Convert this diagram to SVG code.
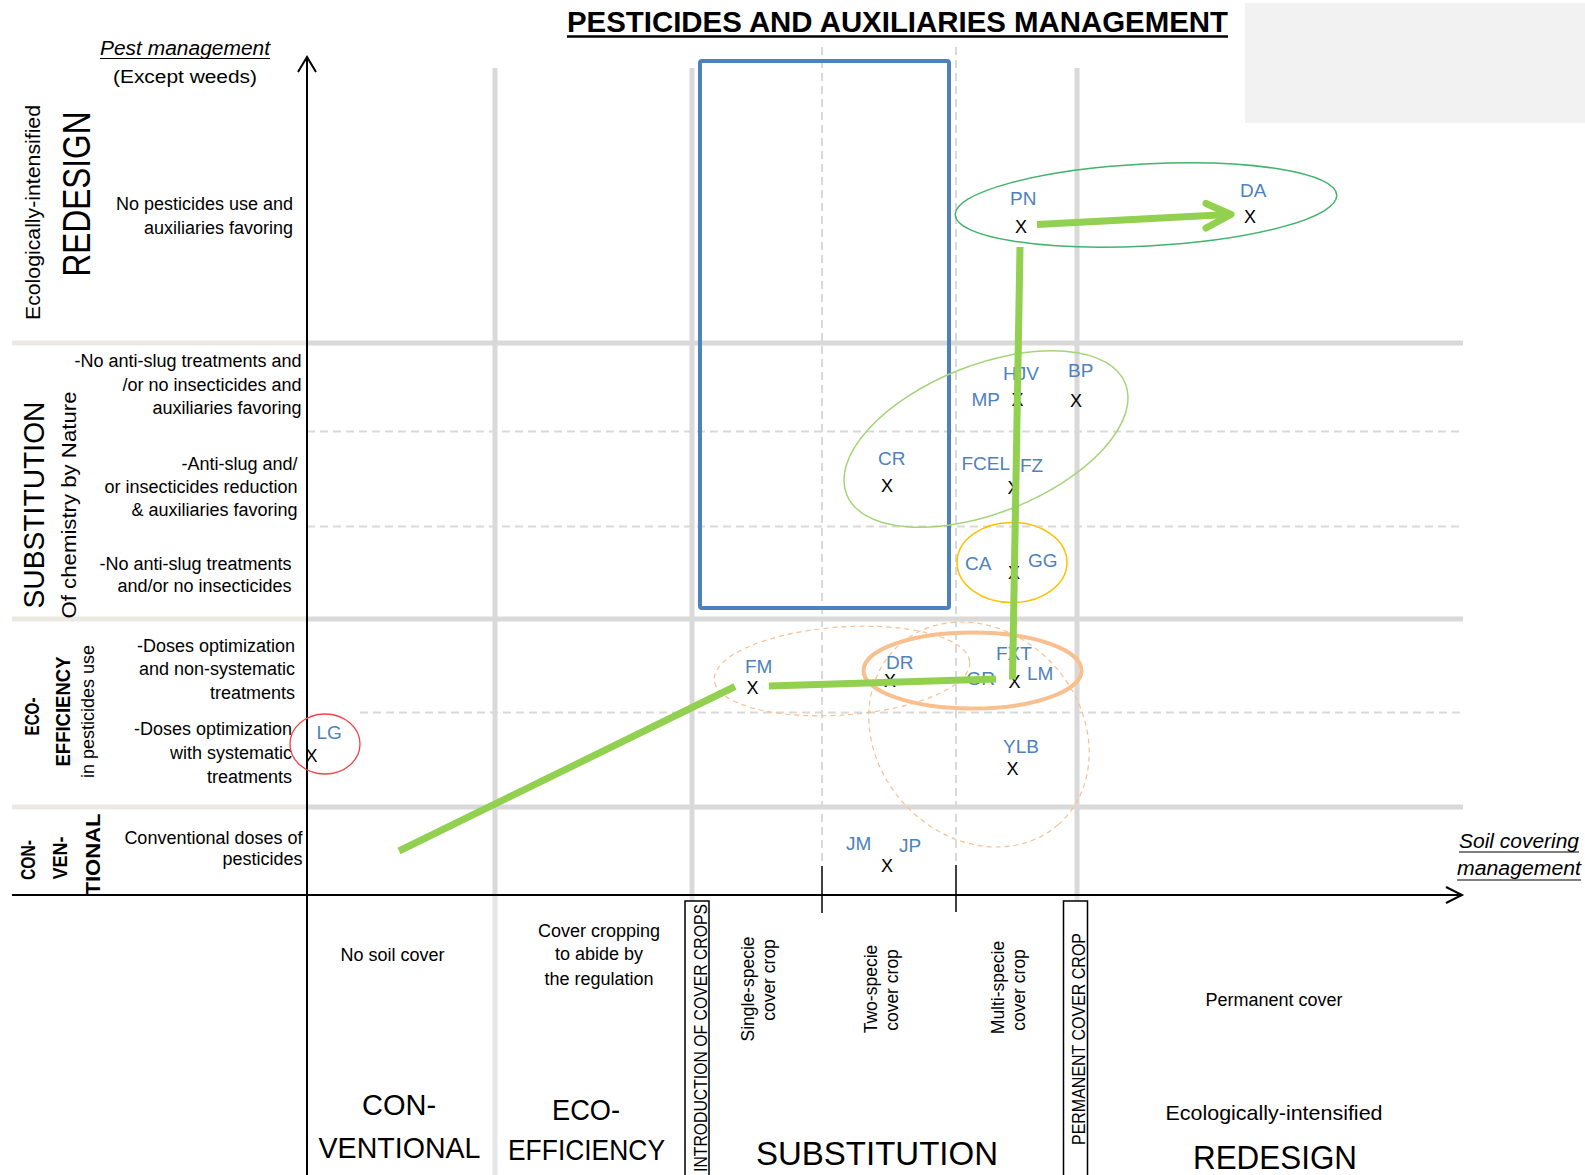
<svg xmlns="http://www.w3.org/2000/svg" width="1585" height="1175" viewBox="0 0 1585 1175">
<style>
text { font-family: "Liberation Sans", Arial, sans-serif; fill: #000; }
.t { font-size: 18px; }
.r { text-anchor: end; }
.m { text-anchor: middle; }
.b { font-weight: bold; }
.it { font-style: italic; font-size: 20.5px; }
.code { font-size: 19px; fill: #4f81bd; }
.x { font-size: 18px; text-anchor: middle; }
.grid { stroke: #d9d9d9; stroke-width: 5; fill: none; }
.gridL { stroke: #ebe9e1; stroke-width: 5; fill: none; }
.gridB { stroke: #e6e6e6; stroke-width: 5; fill: none; }
.dash { stroke: #d9d9d9; stroke-width: 2; stroke-dasharray: 8 5; fill: none; }
.axis { stroke: #000; stroke-width: 2; fill: none; }
.conn { stroke: #92d050; stroke-width: 7; fill: none; }
.cl { fill: none; }
</style>

<rect x="1245" y="3" width="340" height="120" fill="#f2f2f2"/>

<g id="grid">
  <line class="gridL" x1="12" y1="343" x2="307" y2="343"/>
  <line class="gridL" x1="12" y1="619" x2="307" y2="619"/>
  <line class="gridL" x1="12" y1="807" x2="307" y2="807"/>
  <line class="grid" x1="307" y1="343" x2="1463" y2="343"/>
  <line class="grid" x1="307" y1="619" x2="1463" y2="619"/>
  <line class="grid" x1="307" y1="807" x2="1463" y2="807"/>
  <line class="dash" x1="307" y1="431.5" x2="1463" y2="431.5"/>
  <line class="dash" x1="307" y1="526.5" x2="1463" y2="526.5"/>
  <line class="dash" x1="360" y1="712.5" x2="1463" y2="712.5"/>
  <line class="grid" x1="495" y1="68" x2="495" y2="895"/>
  <line class="grid" x1="692" y1="68" x2="692" y2="895"/>
  <line class="grid" x1="1077" y1="68" x2="1077" y2="895"/>
  <line class="gridB" x1="495" y1="895" x2="495" y2="1175"/>
  <line class="gridB" x1="692" y1="895" x2="692" y2="1175"/>
  <line class="gridB" x1="1077" y1="895" x2="1077" y2="1175"/>
  <line class="dash" x1="822" y1="47" x2="822" y2="866"/>
  <line class="dash" x1="956" y1="47" x2="956" y2="866"/>
</g>

<g id="axes">
  <line class="axis" x1="307" y1="57" x2="307" y2="1175"/>
  <polyline class="axis" points="298,72 307,57 316,72"/>
  <line class="axis" x1="12" y1="895" x2="1461" y2="895"/>
  <polyline class="axis" points="1446,887 1462,895 1446,903"/>
  <line stroke="#000" stroke-width="1.5" x1="822" y1="866" x2="822" y2="913"/>
  <line stroke="#000" stroke-width="1.5" x1="956" y1="865" x2="956" y2="912"/>
</g>

<g id="title">
  <text class="b" x="567" y="32" font-size="29.5" textLength="661" lengthAdjust="spacingAndGlyphs">PESTICIDES AND AUXILIARIES MANAGEMENT</text>
  <line x1="567" y1="36.5" x2="1228" y2="36.5" stroke="#000" stroke-width="2.5"/>
</g>

<g id="y-axis-title">
  <text class="it m" x="185" y="55" textLength="170" lengthAdjust="spacingAndGlyphs">Pest management</text>
  <line x1="100" y1="58.5" x2="270" y2="58.5" stroke="#000" stroke-width="1.2"/>
  <text class="t m" x="185" y="83" font-size="20" textLength="144" lengthAdjust="spacingAndGlyphs">(Except weeds)</text>
</g>

<g id="x-axis-title">
  <text class="it m" x="1519" y="848" textLength="120" lengthAdjust="spacingAndGlyphs">Soil covering</text>
  <line x1="1459" y1="852" x2="1579" y2="852" stroke="#000" stroke-width="1.2"/>
  <text class="it m" x="1519" y="875" textLength="124" lengthAdjust="spacingAndGlyphs">management</text>
  <line x1="1457" y1="880" x2="1581" y2="880" stroke="#000" stroke-width="1.2"/>
</g>

<g id="row-redesign">
  <text class="m" font-size="21" transform="translate(40,212.5) rotate(-90)" textLength="215" lengthAdjust="spacingAndGlyphs">Ecologically-intensified</text>
  <text class="m" font-size="38" transform="translate(90,194) rotate(-90)" textLength="165" lengthAdjust="spacingAndGlyphs">REDESIGN</text>
  <text class="t r" x="293" y="210">No pesticides use and</text>
  <text class="t r" x="293" y="233.5">auxiliaries favoring</text>
</g>

<g id="row-substitution">
  <text class="m" font-size="29" transform="translate(43.5,505) rotate(-90)" textLength="207" lengthAdjust="spacingAndGlyphs">SUBSTITUTION</text>
  <text class="m" font-size="21" transform="translate(76,505) rotate(-90)" textLength="227" lengthAdjust="spacingAndGlyphs">Of chemistry by Nature</text>
  <text class="t r" x="301.5" y="367">-No anti-slug treatments and</text>
  <text class="t r" x="301.5" y="391">/or no insecticides and</text>
  <text class="t r" x="301.5" y="414">auxiliaries favoring</text>
  <text class="t r" x="297.5" y="470">-Anti-slug and/</text>
  <text class="t r" x="297.5" y="493">or insecticides reduction</text>
  <text class="t r" x="297.5" y="515.5">&amp; auxiliaries favoring</text>
  <text class="t r" x="291.5" y="570">-No anti-slug treatments</text>
  <text class="t r" x="291.5" y="592">and/or no insecticides</text>
</g>

<g id="row-ecoefficiency">
  <text class="m b" font-size="19.5" transform="translate(38.5,716.5) rotate(-90)" textLength="38" lengthAdjust="spacingAndGlyphs">ECO-</text>
  <text class="m b" font-size="20" transform="translate(70,711.5) rotate(-90)" textLength="110" lengthAdjust="spacingAndGlyphs">EFFICIENCY</text>
  <text class="m" font-size="18" transform="translate(94,711.5) rotate(-90)" textLength="133" lengthAdjust="spacingAndGlyphs">in pesticides use</text>
  <text class="t r" x="295" y="651.5">-Doses optimization</text>
  <text class="t r" x="295" y="675">and non-systematic</text>
  <text class="t r" x="295" y="699">treatments</text>
  <text class="t r" x="292" y="735">-Doses optimization</text>
  <text class="t r" x="292" y="758.5">with systematic</text>
  <text class="t r" x="292" y="782.5">treatments</text>
</g>

<g id="row-conventional">
  <text class="m b" font-size="20" transform="translate(35,860) rotate(-90)" textLength="40" lengthAdjust="spacingAndGlyphs">CON-</text>
  <text class="m b" font-size="20" transform="translate(66.5,858) rotate(-90)" textLength="43" lengthAdjust="spacingAndGlyphs">VEN-</text>
  <text class="m b" font-size="20" transform="translate(100,854.5) rotate(-90)" textLength="82" lengthAdjust="spacingAndGlyphs">TIONAL</text>
  <text class="t r" x="302.5" y="843.5">Conventional doses of</text>
  <text class="t r" x="302.5" y="865">pesticides</text>
</g>

<g id="col-conventional">
  <text class="t m" x="392.5" y="960.5">No soil cover</text>
  <text class="m" font-size="29" x="399" y="1115">CON-</text>
  <text class="m" font-size="29" x="399.5" y="1157.5" textLength="162" lengthAdjust="spacingAndGlyphs">VENTIONAL</text>
</g>

<g id="col-ecoefficiency">
  <text class="t m" x="599" y="936.5">Cover cropping</text>
  <text class="t m" x="599" y="960">to abide by</text>
  <text class="t m" x="599" y="984.5">the regulation</text>
  <text class="m" font-size="29" x="586" y="1120" textLength="68" lengthAdjust="spacingAndGlyphs">ECO-</text>
  <text class="m" font-size="29" x="586.5" y="1160" textLength="157" lengthAdjust="spacingAndGlyphs">EFFICIENCY</text>
</g>

<g id="box-introduction">
  <rect x="685" y="901" width="24" height="290" fill="#fff" stroke="#000" stroke-width="1.5"/>
  <text font-size="18" transform="translate(706.5,1172) rotate(-90)" textLength="268" lengthAdjust="spacingAndGlyphs">INTRODUCTION OF COVER CROPS</text>
</g>

<g id="col-substitution">
  <text font-size="17.5" class="m" transform="translate(754,989) rotate(-90)">Single-specie</text>
  <text font-size="17.5" class="m" transform="translate(775,980) rotate(-90)">cover crop</text>
  <text font-size="17.5" class="m" transform="translate(877,989) rotate(-90)">Two-specie</text>
  <text font-size="17.5" class="m" transform="translate(897.5,990) rotate(-90)">cover crop</text>
  <text font-size="17.5" class="m" transform="translate(1004,987.5) rotate(-90)">Multi-specie</text>
  <text font-size="17.5" class="m" transform="translate(1025,990) rotate(-90)">cover crop</text>
  <text class="m" font-size="33" x="877" y="1165">SUBSTITUTION</text>
</g>

<g id="box-permanent">
  <rect x="1063.5" y="901" width="24" height="290" fill="#fff" stroke="#000" stroke-width="1.5"/>
  <text class="m" font-size="18" transform="translate(1084.5,1039) rotate(-90)" textLength="212" lengthAdjust="spacingAndGlyphs">PERMANENT COVER CROP</text>
</g>

<g id="col-redesign">
  <text class="t m" x="1274" y="1006">Permanent cover</text>
  <text class="m" font-size="21" x="1274" y="1120" textLength="217" lengthAdjust="spacingAndGlyphs">Ecologically-intensified</text>
  <text class="m" font-size="33" x="1275" y="1169" textLength="164" lengthAdjust="spacingAndGlyphs">REDESIGN</text>
</g>

<g id="substitution-zone">
  <rect x="700" y="61" width="249" height="547" rx="2" fill="none" stroke="#4f81bd" stroke-width="4"/>
</g>

<g id="clusters">
  <ellipse class="cl" cx="1146" cy="205" rx="191" ry="41" transform="rotate(-3 1146 205)" stroke="#41b36a" stroke-width="1.5"/>
  <ellipse class="cl" cx="986" cy="439" rx="150" ry="74" transform="rotate(-21.7 986 439)" stroke="#a5d477" stroke-width="1.5"/>
  <ellipse class="cl" cx="1012" cy="562.5" rx="55" ry="40" stroke="#ffc000" stroke-width="1.5"/>
  <ellipse class="cl" cx="842" cy="671" rx="128" ry="44" transform="rotate(-4 842 671)" stroke="#f9bf8f" stroke-width="1.2" stroke-dasharray="5 4"/>
  <ellipse class="cl" cx="979" cy="734.5" rx="120" ry="102" transform="rotate(48.7 979 734.5)" stroke="#f9bf8f" stroke-width="1.2" stroke-dasharray="5 4"/>
  <ellipse class="cl" cx="972.5" cy="670.5" rx="109" ry="38" stroke="#f9bf8f" stroke-width="4"/>
  <ellipse class="cl" cx="325" cy="744" rx="35" ry="30" stroke="#f0444a" stroke-width="1.3"/>
</g>

<g id="node-PN"><text class="code" x="1010" y="205">PN</text><text class="x" x="1021" y="232.5">X</text></g>
<g id="node-DA"><text class="code" x="1240" y="196.5">DA</text><text class="x" x="1250" y="222.5">X</text></g>
<g id="node-HJV-MP"><text class="code" x="1003" y="380">HJV</text><text class="code" x="971.5" y="406">MP</text><text class="x" x="1017.5" y="406">X</text></g>
<g id="node-BP"><text class="code" x="1068" y="376.5">BP</text><text class="x" x="1076" y="406.5">X</text></g>
<g id="node-CR"><text class="code" x="878" y="465">CR</text><text class="x" x="887" y="491.5">X</text></g>
<g id="node-FCEL-FZ"><text class="code" x="961.5" y="469.5">FCEL</text><text class="code" x="1020" y="471.5">FZ</text><text class="x" x="1013.5" y="493.5">X</text></g>
<g id="node-CA-GG"><text class="code" x="965" y="570">CA</text><text class="code" x="1028" y="566.5">GG</text><text class="x" x="1014" y="578.5">X</text></g>
<g id="node-FM"><text class="code" x="745" y="672.5">FM</text><text class="x" x="752.5" y="694">X</text></g>
<g id="node-DR"><text class="code" x="886" y="669">DR</text><text class="x" x="890" y="687">X</text></g>
<g id="node-FXT-GR-LM"><text class="code" x="996" y="660">FXT</text><text class="code" x="966.5" y="685">GR</text><text class="code" x="1027" y="679.5">LM</text><text class="x" x="1014.5" y="687.5">X</text></g>
<g id="node-YLB"><text class="code" x="1003" y="752.5">YLB</text><text class="x" x="1012.5" y="775">X</text></g>
<g id="node-LG"><text class="code" x="316.5" y="738.5">LG</text><text class="x" x="311.5" y="761.5">X</text></g>
<g id="node-JM-JP"><text class="code" x="846" y="849.5">JM</text><text class="code" x="899" y="851.5">JP</text><text class="x" x="887" y="871.5">X</text></g>

<g id="connectors">
  <line class="conn" x1="399" y1="851" x2="735" y2="686.5"/>
  <line class="conn" x1="769" y1="686" x2="996" y2="679"/>
  <line class="conn" x1="1012.5" y1="679.5" x2="1020" y2="247"/>
  <line class="conn" x1="1037" y1="224.5" x2="1228" y2="214.5"/>
  <polyline class="conn" points="1206,203.5 1231,214.5 1206,228" stroke-linecap="round" stroke-linejoin="round"/>
</g>
</svg>
